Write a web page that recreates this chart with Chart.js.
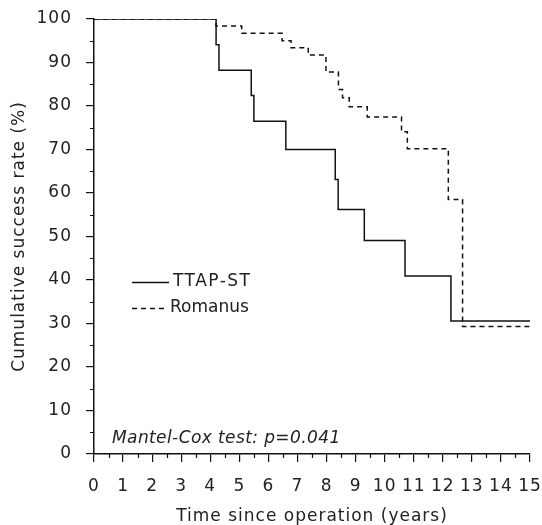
<!DOCTYPE html>
<html>
<head>
<meta charset="utf-8">
<script src="https://cdn.jsdelivr.net/npm/chart.js@4.4.1/dist/chart.umd.min.js"></script>
<style>
  html, body { margin: 0; padding: 0; background: #fff; }
</style>
</head>
<body>
<canvas id="chart" width="542" height="525"></canvas>
<script>
// Kaplan-Meier steps (time in years, rate in %)
const ttapTimes = [0, 4.2, 4.3, 5.41, 5.5, 6.6, 8.3, 8.4, 9.3, 10.7, 12.28, 15];
const ttapRates = [100, 94.1, 88.2, 82.4, 76.5, 70.0, 63.1, 56.2, 49.1, 40.9, 30.6, 30.6];
const romanusTimes = [0, 4.2, 5.08, 6.47, 6.78, 7.37, 7.98, 8.41, 8.55, 8.78, 9.4, 10.58, 10.78, 12.19, 12.68, 15];
const romanusRates = [100, 98.4, 96.7, 95.0, 93.4, 91.7, 87.8, 83.8, 81.9, 79.8, 77.5, 74.1, 70.2, 58.5, 29.3, 29.3];
const seriesNames = ['TTAP-ST', 'Romanus'];
const testNote = 'Mantel-Cox test: p=0.041';
const xTitle = 'Time since operation (years)';
const yTitle = 'Cumulative success rate (%)';

const ink = '#111';
const textInk = '#222';
const font = 'DejaVu Sans';

function toPoints(xs, ys) {
  return xs.map((x, i) => ({ x: x, y: ys[i] }));
}

// minor ticks, legend and the test note
const extras = {
  id: 'extras',
  beforeDraw(chart) {
    chart.ctx.letterSpacing = '1px';  // the original lettering is spaced out a bit
  },
  beforeDatasetsDraw(chart) {
    chart.ctx.letterSpacing = '0px';
  },
  afterDraw(chart) {
    const ctx = chart.ctx;
    const xs = chart.scales.x, ys = chart.scales.y;
    ctx.save();
    ctx.strokeStyle = ink;
    ctx.lineWidth = 1.2;
    ctx.beginPath();
    for (let v = 0.5; v < 15; v += 1) {
      const px = Math.round(xs.getPixelForValue(v)) + 0.5;
      ctx.moveTo(px, ys.bottom);
      ctx.lineTo(px, ys.bottom + 4);
    }
    for (let v = 5; v < 100; v += 10) {
      const py = Math.round(ys.getPixelForValue(v)) + 0.5;
      ctx.moveTo(xs.left, py);
      ctx.lineTo(xs.left - 4, py);
    }
    ctx.stroke();

    // legend
    ctx.lineWidth = 1.5;
    ctx.beginPath();
    ctx.moveTo(132, 282.5);
    ctx.lineTo(169, 282.5);
    ctx.stroke();
    ctx.setLineDash([5, 4]);
    ctx.beginPath();
    ctx.moveTo(132, 308.5);
    ctx.lineTo(168, 308.5);
    ctx.stroke();
    ctx.setLineDash([]);

    ctx.fillStyle = textInk;
    ctx.font = '17px "' + font + '"';
    ctx.textBaseline = 'middle';
    ctx.textAlign = 'left';
    ctx.letterSpacing = '1.5px';
    ctx.fillText(seriesNames[0], 173, 282);
    ctx.letterSpacing = '0px';
    ctx.fillText(seriesNames[1], 170, 308);

    ctx.font = 'italic 17px "' + font + '"';
    ctx.letterSpacing = '0.4px';
    ctx.fillText(testNote, 112, 439);
    ctx.restore();
  }
};

new Chart(document.getElementById('chart').getContext('2d'), {
  type: 'line',
  data: {
    datasets: [
      {
        label: seriesNames[0],
        data: toPoints(ttapTimes, ttapRates),
        borderColor: ink,
        borderWidth: 1.5,
        stepped: true,
        pointRadius: 0,
        fill: false
      },
      {
        label: seriesNames[1],
        data: toPoints(romanusTimes, romanusRates),
        borderColor: ink,
        borderWidth: 1.5,
        borderDash: [5, 4],
        stepped: true,
        pointRadius: 0,
        fill: false
      }
    ]
  },
  options: {
    responsive: false,
    animation: false,
    layout: { padding: { top: 19, right: 12, left: 0, bottom: 0 } },
    plugins: { legend: { display: false }, tooltip: { enabled: false } },
    scales: {
      x: {
        type: 'linear',
        min: 0,
        max: 15,
        afterFit: (s) => { s.height = 71; s.paddingLeft = 0; s.paddingRight = 0; },
        ticks: { stepSize: 1, color: textInk, padding: 14, font: { family: font, size: 17 } },
        grid: { drawOnChartArea: false, drawTicks: true, tickLength: 8, color: ink, lineWidth: 1.2 },
        border: { color: ink, width: 1.5 },
        title: { display: true, text: xTitle, color: textInk, padding: { top: 0, bottom: -2 }, font: { family: font, size: 17 } }
      },
      y: {
        min: 0,
        max: 100,
        afterFit: (s) => { s.width = 94; s.paddingTop = 0; s.paddingBottom = 0; },
        ticks: { stepSize: 10, color: textInk, padding: 14, font: { family: font, size: 17 } },
        grid: { drawOnChartArea: false, drawTicks: true, tickLength: 8, color: ink, lineWidth: 1.2 },
        border: { color: ink, width: 1.5 },
        title: { display: true, text: yTitle, color: textInk, padding: { top: 9, bottom: 0 }, font: { family: font, size: 17 } }
      }
    }
  },
  plugins: [extras]
});
</script>
</body>
</html>
